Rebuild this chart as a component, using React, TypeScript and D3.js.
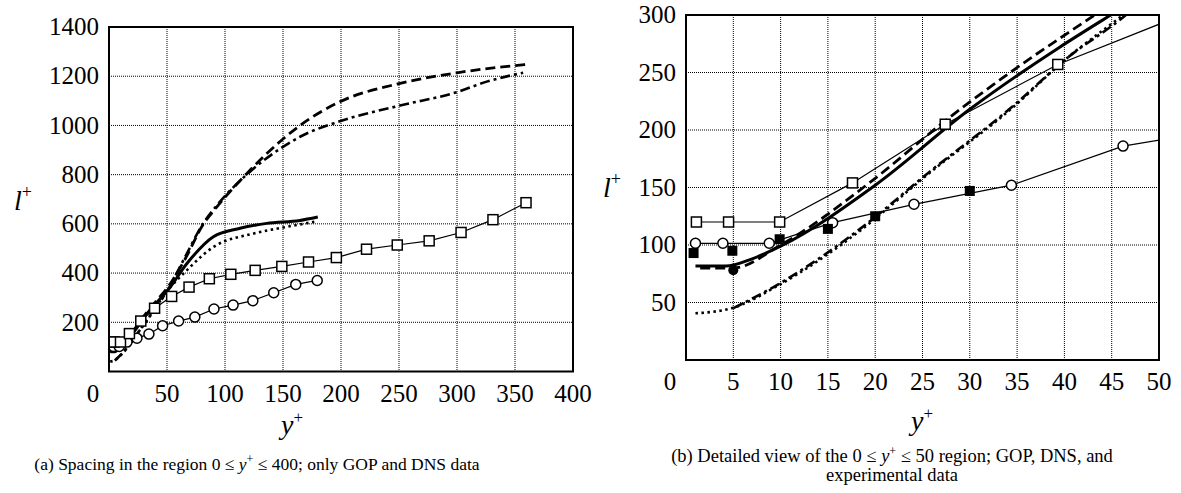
import React from 'react';
import * as d3 from 'd3';

type Pt = [number, number];

// GOP spacing (open squares) and DNS spacing (open circles)
const gopSquares: Pt[] = [
  [1.1, 120], [4.5, 120], [9.9, 120], [17.6, 154], [27.4, 205], [39.3, 257],
  [54, 305], [69, 343], [86.5, 377], [105, 395], [126, 411], [149, 427],
  [172, 445], [196, 463], [222, 497], [248.5, 514], [276, 531], [303.5, 565],
  [331, 617], [359.5, 686],
];
const dnsCircles: Pt[] = [
  [1, 101.5], [3.9, 101.5], [8.8, 101.5], [15.5, 119.4], [24.1, 135.4], [34.4, 152],
  [46.2, 186], [60, 205], [74, 221], [90.5, 254], [107, 270], [124, 288],
  [142, 320], [161, 354], [179.5, 370],
];
// experimental data (panel b only)
const expSquares: Pt[] = [[0.8, 93], [4.9, 95], [9.9, 105], [15, 114], [20, 125], [30, 147]];
const expCircles: Pt[] = [[5, 78]];

// model curves
const solidCurve: Pt[] = [
  [1, 81.7], [4.2, 81.7], [7, 88], [10, 99], [20, 152], [30, 218], [39.5, 272],
  [44.9, 300], [50, 326], [67, 438], [90, 548], [113, 582], [136, 602], [164.6, 614], [180, 628],
];
const dashedCurve: Pt[] = [
  [1.5, 80], [5, 80], [10, 100], [20, 158], [27.4, 208], [35.3, 256], [43.2, 300],
  [50, 338], [65, 452], [81, 596], [93, 669], [118.7, 804], [150, 945], [164.7, 1000],
  [199, 1096], [251, 1171], [300, 1214], [359.5, 1248],
];
const dashDotCurve: Pt[] = [
  [5, 45], [10, 67], [18.4, 114], [25.8, 164], [34.6, 221], [40.2, 262], [46.5, 300],
  [50, 326], [65, 460], [81, 600], [93, 675], [118.7, 800], [150, 913], [164.7, 954],
  [199, 1017], [251, 1081], [299.7, 1135], [325.6, 1178], [357, 1214],
];
const dottedCurve: Pt[] = [
  [1, 40.6], [4.8, 45], [10, 66], [18, 110], [25.8, 163], [34.6, 220], [40.2, 262],
  [46.2, 300], [50, 325], [67, 411], [90, 506], [124, 560], [150, 585], [177, 608],
];

const xTicksA = [0, 50, 100, 150, 200, 250, 300, 350, 400];
const yTicksA = [200, 400, 600, 800, 1000, 1200, 1400];
const xTicksB = [0, 5, 10, 15, 20, 25, 30, 35, 40, 45, 50];
const yTicksB = [50, 100, 150, 200, 250, 300];

const FONT = "'Liberation Serif', 'Times New Roman', serif";

interface PanelProps {
  id: string;
  left: number;
  right: number;
  top: number;
  bottom: number;
  xMax: number;
  yMax: number;
  xTicks: number[];
  yTicks: number[];
  showExp: boolean;
  ylabX: number;
  ylabY: number;
  xlabX: number;
  xlabY: number;
}

const Panel: React.FC<PanelProps> = (p) => {
  const x = d3.scaleLinear().domain([0, p.xMax]).range([p.left, p.right]);
  const y = d3.scaleLinear().domain([0, p.yMax]).range([p.bottom, p.top]);
  const smooth = d3.line<Pt>().x(d => x(d[0])).y(d => y(d[1])).curve(d3.curveMonotoneX);
  const straight = d3.line<Pt>().x(d => x(d[0])).y(d => y(d[1]));
  const clip = `url(#clip-${p.id})`;

  return (
    <g>
      <defs>
        <clipPath id={`clip-${p.id}`}>
          <rect x={p.left} y={p.top} width={p.right - p.left} height={p.bottom - p.top} />
        </clipPath>
      </defs>

      {/* grid */}
      {p.xTicks.slice(1, -1).map(t => (
        <line key={'gx' + t} x1={x(t)} x2={x(t)} y1={p.top} y2={p.bottom}
          stroke="#000" strokeWidth={1} strokeDasharray="1,1" />
      ))}
      {p.yTicks.slice(0, -1).map(t => (
        <line key={'gy' + t} x1={p.left} x2={p.right} y1={y(t)} y2={y(t)}
          stroke="#000" strokeWidth={1} strokeDasharray="1,1" />
      ))}

      <g clipPath={clip} fill="none" stroke="#000">
        <path d={smooth(dottedCurve) || ''} strokeWidth={2.6} strokeDasharray="2.5,3.5" />
        <path d={smooth(dashDotCurve) || ''} strokeWidth={2.6} strokeDasharray="10,4,3,4" />
        <path d={smooth(dashedCurve) || ''} strokeWidth={2.8} strokeDasharray="10,5" />
        <path d={smooth(solidCurve) || ''} strokeWidth={3} />
        <path d={straight(gopSquares) || ''} strokeWidth={1.2} />
        <path d={straight(dnsCircles) || ''} strokeWidth={1.2} />
      </g>

      <g clipPath={clip}>
        {dnsCircles.map((d, i) => (
          <circle key={'c' + i} cx={x(d[0])} cy={y(d[1])} r={5}
            fill="#fff" stroke="#000" strokeWidth={1.5} />
        ))}
        {gopSquares.map((d, i) => (
          <rect key={'s' + i} x={x(d[0]) - 5} y={y(d[1]) - 5} width={10} height={10}
            fill="#fff" stroke="#000" strokeWidth={1.5} />
        ))}
        {p.showExp && expSquares.map((d, i) => (
          <rect key={'e' + i} x={x(d[0]) - 5} y={y(d[1]) - 5} width={10} height={10} fill="#000" />
        ))}
        {p.showExp && expCircles.map((d, i) => (
          <circle key={'ec' + i} cx={x(d[0])} cy={y(d[1])} r={5} fill="#000" />
        ))}
      </g>

      {/* frame */}
      <rect x={p.left} y={p.top} width={p.right - p.left} height={p.bottom - p.top}
        fill="none" stroke="#000" strokeWidth={2} />

      {/* tick labels */}
      {p.xTicks.map(t => (
        <text key={'tx' + t} x={x(t) + (t === 0 ? -16 : 0)} y={p.bottom + 30}
          textAnchor="middle" fontSize={25}>{t}</text>
      ))}
      {p.yTicks.map(t => (
        <text key={'ty' + t} x={p.left - 10} y={y(t)} dy="0.33em"
          textAnchor="end" fontSize={25}>{t}</text>
      ))}

      {/* axis titles */}
      <text x={p.ylabX} y={p.ylabY} fontSize={28}>
        <tspan fontStyle="italic">l</tspan>
        <tspan dy={-12} fontSize={18}>+</tspan>
      </text>
      <text x={p.xlabX} y={p.xlabY} fontSize={28} textAnchor="middle">
        <tspan fontStyle="italic">y</tspan>
        <tspan dy={-11} fontSize={17}>+</tspan>
      </text>
    </g>
  );
};

const Sup: React.FC = () => (
  <>
    <tspan fontStyle="italic">y</tspan>
    <tspan dy={-7} fontSize={12}>+</tspan>
    <tspan dy={7}>{' '}</tspan>
  </>
);

export default function App() {
  return (
    <svg width={1181} height={493}
      style={{ position: 'absolute', left: 0, top: 0, background: '#fff', fontFamily: FONT }}>
      <Panel id="a" left={109} right={573} top={27} bottom={371.5} xMax={400} yMax={1400}
        xTicks={xTicksA} yTicks={yTicksA} showExp={false}
        ylabX={14} ylabY={210} xlabX={292} xlabY={434} />
      <Panel id="b" left={686} right={1159} top={15} bottom={360} xMax={50} yMax={300}
        xTicks={xTicksB} yTicks={yTicksB} showExp={true}
        ylabX={603} ylabY={197} xlabX={922} xlabY={430} />

      <text x={257} y={470} textAnchor="middle" fontSize={17.5}>
        (a) Spacing in the region 0 ≤ <Sup />≤ 400; only GOP and DNS data
      </text>
      <text x={892} y={462} textAnchor="middle" fontSize={18.5}>
        (b) Detailed view of the 0 ≤ <Sup />≤ 50 region; GOP, DNS, and
      </text>
      <text x={892} y={481} textAnchor="middle" fontSize={18.5}>
        experimental data
      </text>
    </svg>
  );
}
